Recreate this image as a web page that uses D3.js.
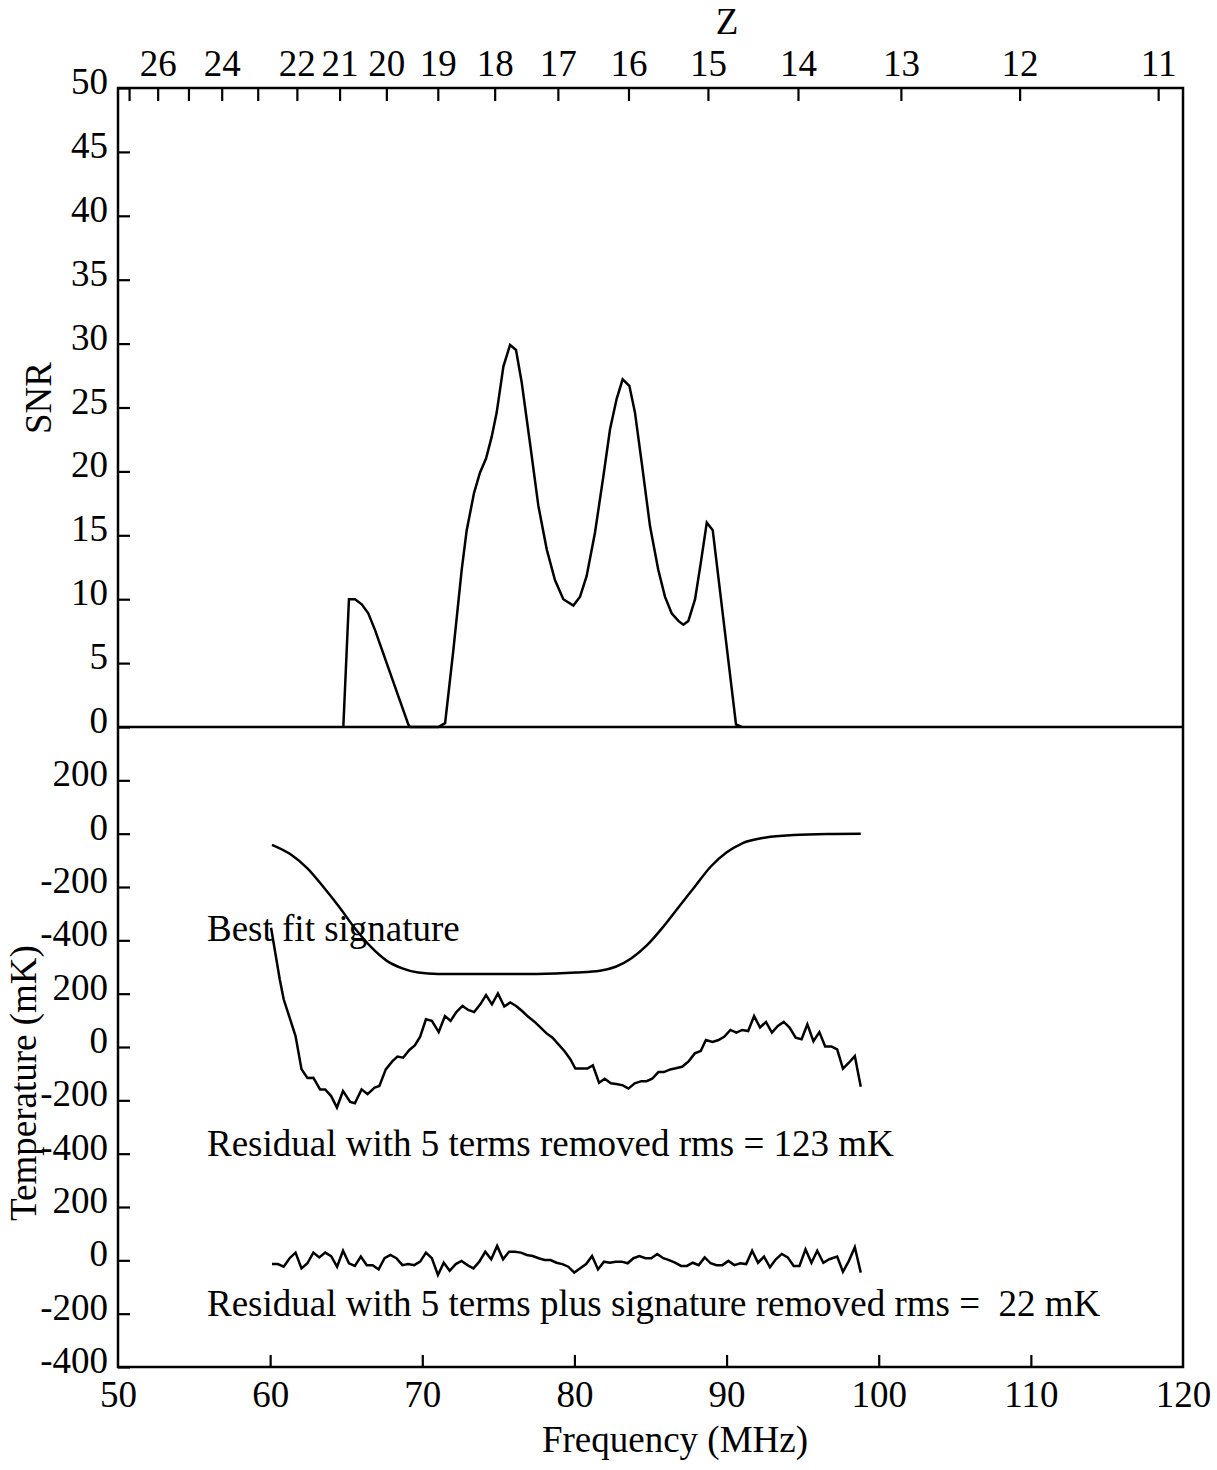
<!DOCTYPE html>
<html>
<head>
<meta charset="utf-8">
<script src="https://cdn.jsdelivr.net/npm/d3@7"></script>
<style>
  html, body { margin: 0; padding: 0; background: #fff; }
  svg text { font-family: "Liberation Serif", "Times New Roman", serif; fill: #000; }
</style>
</head>
<body>
<svg id="chart" width="1217" height="1470"></svg>
<script>
// ---------------- DATA ----------------
const freqTicks = [50, 60, 70, 80, 90, 100, 110, 120];
const zTicks = [27, 26, 25, 24, 23, 22, 21, 20, 19, 18, 17, 16, 15, 14, 13, 12, 11];
const zLabels = [26, 24, 22, 21, 20, 19, 18, 17, 16, 15, 14, 13, 12, 11];
const snrTicks = [0, 5, 10, 15, 20, 25, 30, 35, 40, 45, 50];
const tempTickValues = [-400, -200, 0, 200];
const panelOffsets = [1600, 800, 0]; // signature, residual 5 terms, residual + signature

// SNR vs frequency (MHz)
const snrFreq = [64.81, 65.18, 65.58, 66.02, 66.45, 66.89, 69.08, 69.2, 71.05, 71.5, 72.04, 72.59, 72.92,
  73.4, 73.79, 74.19, 74.56, 74.89, 75.33, 75.77, 76.16, 76.53, 77.08, 77.63, 78.18, 78.72, 79.27,
  79.93, 80.37, 80.8, 81.35, 81.9, 82.34, 82.78, 83.17, 83.61, 83.98, 84.42, 84.97, 85.51, 85.95,
  86.39, 86.83, 87.16, 87.49, 87.93, 88.3, 88.7, 89.09, 90.62, 91.0];
const snrValues = [0, 10, 10, 9.6, 8.9, 7.6, 0.2, 0, 0, 0.3, 6.0, 12.3, 15.4,
  18.3, 19.9, 21.0, 22.7, 24.6, 28.2, 29.9, 29.5, 27.0, 22.2, 17.3, 13.9, 11.5, 10.0,
  9.5, 10.2, 11.8, 15.2, 19.6, 23.3, 25.7, 27.2, 26.7, 24.6, 20.7, 15.7, 12.3, 10.2,
  8.9, 8.3, 8.0, 8.3, 10.0, 12.8, 16.0, 15.4, 0.2, 0];

// Best fit signature (mK)
const sigFreq = [60.12, 61.41, 62.45, 63.49, 64.53, 65.57, 66.61, 67.65, 68.69, 69.73, 71.03, 73.62,
  77.52, 80.12, 81.68, 82.71, 83.75, 84.79, 85.84, 86.87, 87.91, 88.95, 89.99, 91.03, 92.59, 94.41,
  97.02, 98.82];
const sigValues = [-42, -80, -130, -199, -274, -355, -424, -476, -505, -521, -526, -526,
  -526, -521, -514, -499, -467, -417, -349, -274, -199, -124, -71, -36, -14, -5,
  -1, 0];

// Residual with 5 terms removed (mK)
const res5Freq = [60.06, 60.63, 60.89, 61.67, 62.06, 62.45, 62.84, 63.28, 63.62, 64.01, 64.39, 64.79,
  65.26, 65.57, 66.01, 66.4, 66.87, 67.18, 67.6, 68.04, 68.37, 68.74, 69.15, 69.51, 69.86, 70.24,
  70.63, 71.08, 71.49, 71.86, 72.24, 72.64, 73.02, 73.41, 73.81, 74.19, 74.58, 74.97, 75.39, 75.78,
  76.17, 76.56, 76.95, 77.39, 77.78, 78.17, 78.56, 78.95, 79.34, 79.73, 80.06, 80.42, 80.85, 81.21,
  81.62, 81.99, 82.4, 82.84, 83.18, 83.55, 83.96, 84.4, 84.74, 85.11, 85.52, 85.88, 86.3, 86.66,
  87.08, 87.52, 87.91, 88.3, 88.64, 89.08, 89.47, 89.86, 90.25, 90.64, 91.03, 91.42, 91.81, 92.2,
  92.59, 92.98, 93.37, 93.76, 94.14, 94.54, 94.93, 95.31, 95.71, 96.1, 96.48, 96.88, 97.27, 97.65,
  98.04, 98.43, 98.82];
const res5Values = [447, 254, 179, 41, -83, -116, -115, -159, -159, -184, -227, -165,
  -206, -211, -159, -177, -152, -146, -84, -53, -36, -40, -11, 6, 39, 104,
  98, 56, 116, 98, 131, 154, 139, 131, 160, 195, 160, 201, 152, 167,
  154, 135, 114, 94, 73, 51, 35, 10, -15, -46, -81, -81, -81, -69,
  -134, -119, -136, -140, -144, -156, -136, -128, -128, -119, -94, -94, -84, -80,
  -74, -53, -24, -15, 26, 19, 26, 39, 64, 54, 64, 60, 116, 73,
  94, 54, 79, 94, 73, 35, 29, 85, 22, 56, 2, 2, -9, -81,
  -59, -34, -149];

// Residual with 5 terms plus signature removed (mK)
const res6Freq = [60.12, 60.5, 60.89, 61.28, 61.67, 62.06, 62.45, 62.84, 63.23, 63.62, 64.01, 64.4,
  64.79, 65.18, 65.57, 65.96, 66.35, 66.74, 67.13, 67.52, 67.9, 68.3, 68.69, 69.07, 69.47, 69.86,
  70.24, 70.63, 71.03, 71.41, 71.8, 72.2, 72.58, 72.97, 73.36, 73.75, 74.14, 74.53, 74.92, 75.31,
  75.7, 76.09, 76.48, 76.87, 77.26, 77.65, 78.04, 78.43, 78.82, 79.21, 79.6, 79.99, 80.38, 80.77,
  81.16, 81.55, 81.94, 82.33, 82.71, 83.11, 83.5, 83.88, 84.27, 84.67, 85.05, 85.44, 85.84, 86.22,
  86.61, 87.01, 87.39, 87.78, 88.17, 88.56, 88.95, 89.34, 89.73, 90.12, 90.51, 90.9, 91.29, 91.68,
  92.07, 92.46, 92.85, 93.24, 93.63, 94.02, 94.41, 94.79, 95.19, 95.58, 95.96, 96.36, 96.75, 97.27,
  97.65, 98.04, 98.43, 98.82];
const res6Values = [-14, -14, -24, 8, 29, -30, -11, 29, 11, 29, 16, -24,
  36, -11, -21, 14, -18, -18, -34, 8, 20, 8, -18, -14, -18, -5,
  29, 8, -55, -9, -39, -14, -2, -18, -30, -5, 32, 4, 54, 4,
  32, 32, 29, 20, 16, 8, 1, 1, -9, -14, -24, -46, -30, -14,
  16, -34, -5, -9, -5, -5, -11, 8, 16, 8, 8, 24, 8, 1,
  -9, -21, -21, -9, -18, 11, -11, -18, -18, -2, -18, -11, -14, 36,
  -9, 14, -26, 4, 24, 11, -21, -21, 41, -9, 36, -9, 4, 14,
  -43, -2, 49, -46];

const annotations = [
  "Best fit signature",
  "Residual with 5 terms removed rms = 123 mK",
  "Residual with 5 terms plus signature removed rms =  22 mK"
];

// ---------------- LAYOUT ----------------
const L = 118, R = 1183, T = 88, MID = 727, B = 1367;
const FS = 37;
const svg = d3.select("#chart");

const x = d3.scaleLinear().domain([50, 120]).range([L, R]);
const ySnr = d3.scaleLinear().domain([0, 50]).range([MID, T]);
const yT = d3.scaleLinear().domain([-400, 2000]).range([B, MID]);
const zToFreq = z => 1420.4 / (1 + z);

function styleAxis(g) {
  g.attr("font-size", null).attr("font-family", null);
  g.select(".domain").remove();
  g.selectAll(".tick line").attr("stroke", "#000").attr("stroke-width", 2.2);
  g.selectAll(".tick text").attr("font-size", FS).attr("fill", "#000");
}

// Bottom frequency axis
svg.append("g")
  .attr("transform", `translate(0,${B})`)
  .call(d3.axisBottom(x).tickValues(freqTicks).tickSize(-12).tickPadding(14).tickFormat(d3.format("d")))
  .call(styleAxis)
  .call(g => g.selectAll(".tick").filter(d => d === 50 || d === 120).select("line").remove());

// Top redshift axis
svg.append("g")
  .attr("transform", `translate(0,${T})`)
  .call(d3.axisTop(x).tickValues(zTicks.map(zToFreq)).tickSize(-13).tickPadding(12).tickFormat(""))
  .call(styleAxis)
  .call(g => g.selectAll(".tick text")
      .text((d, i) => zLabels.includes(zTicks[i]) ? String(zTicks[i]) : "")
      .attr("dy", "0em"));

// Left SNR axis
svg.append("g")
  .attr("transform", `translate(${L},0)`)
  .call(d3.axisLeft(ySnr).tickValues(snrTicks).tickSize(-12).tickPadding(10).tickFormat(d3.format("d")))
  .call(styleAxis)
  .call(g => g.selectAll(".tick text").attr("dy", "0.15em"));

// Left temperature axis (three stacked offsets)
const tempAxisValues = [];
panelOffsets.slice().reverse().forEach(o => tempTickValues.forEach(v => tempAxisValues.push(v + o)));
svg.append("g")
  .attr("transform", `translate(${L},0)`)
  .call(d3.axisLeft(yT).tickValues(tempAxisValues).tickSize(-12).tickPadding(10)
      .tickFormat(v => String(v - 800 * Math.floor((v + 400) / 800))))
  .call(styleAxis)
  .call(g => g.selectAll(".tick text").attr("dy", "0.15em"));

// Frame
const frame = svg.append("g").attr("fill", "none").attr("stroke", "#000").attr("stroke-width", 2.5);
frame.append("rect").attr("x", L).attr("y", T).attr("width", R - L).attr("height", B - T);
frame.append("line").attr("x1", L).attr("x2", R).attr("y1", MID).attr("y2", MID);

// Curves
const lineSnr = d3.line().x(d => x(d[0])).y(d => ySnr(d[1]));
svg.append("path")
  .datum(d3.zip(snrFreq, snrValues))
  .attr("d", lineSnr)
  .attr("fill", "none").attr("stroke", "#000").attr("stroke-width", 2.5).attr("stroke-linejoin", "miter");

function tempLine(offset, curve) {
  return d3.line().x(d => x(d[0])).y(d => yT(d[1] + offset)).curve(curve || d3.curveLinear);
}
svg.append("path")
  .datum(d3.zip(sigFreq, sigValues))
  .attr("d", tempLine(panelOffsets[0], d3.curveMonotoneX))
  .attr("fill", "none").attr("stroke", "#000").attr("stroke-width", 2.5);
svg.append("path")
  .datum(d3.zip(res5Freq, res5Values))
  .attr("d", tempLine(panelOffsets[1]))
  .attr("fill", "none").attr("stroke", "#000").attr("stroke-width", 2.5);
svg.append("path")
  .datum(d3.zip(res6Freq, res6Values))
  .attr("d", tempLine(panelOffsets[2]))
  .attr("fill", "none").attr("stroke", "#000").attr("stroke-width", 2.5);

// Annotations (placed relative to each panel via the scale)
const annotY = [yT(panelOffsets[0] - 400) + 1, yT(panelOffsets[1] - 400) + 2, yT(panelOffsets[2] - 200) + 2];
annotations.forEach((t, i) => {
  svg.append("text")
    .attr("x", x(55.85)).attr("y", annotY[i])
    .attr("font-size", FS)
    .style("white-space", "pre")
    .text(t);
});

// Axis titles
svg.append("text").attr("x", 727).attr("y", 34).attr("text-anchor", "middle").attr("font-size", FS).text("Z");
svg.append("text").attr("x", 675).attr("y", 1452).attr("text-anchor", "middle").attr("font-size", FS).text("Frequency (MHz)");
svg.append("text").attr("transform", `translate(51,398) rotate(-90)`)
  .attr("text-anchor", "middle").attr("font-size", FS).text("SNR");
svg.append("text").attr("transform", `translate(36,1083) rotate(-90)`)
  .attr("text-anchor", "middle").attr("font-size", FS).text("Temperature (mK)");
</script>
</body>
</html>
